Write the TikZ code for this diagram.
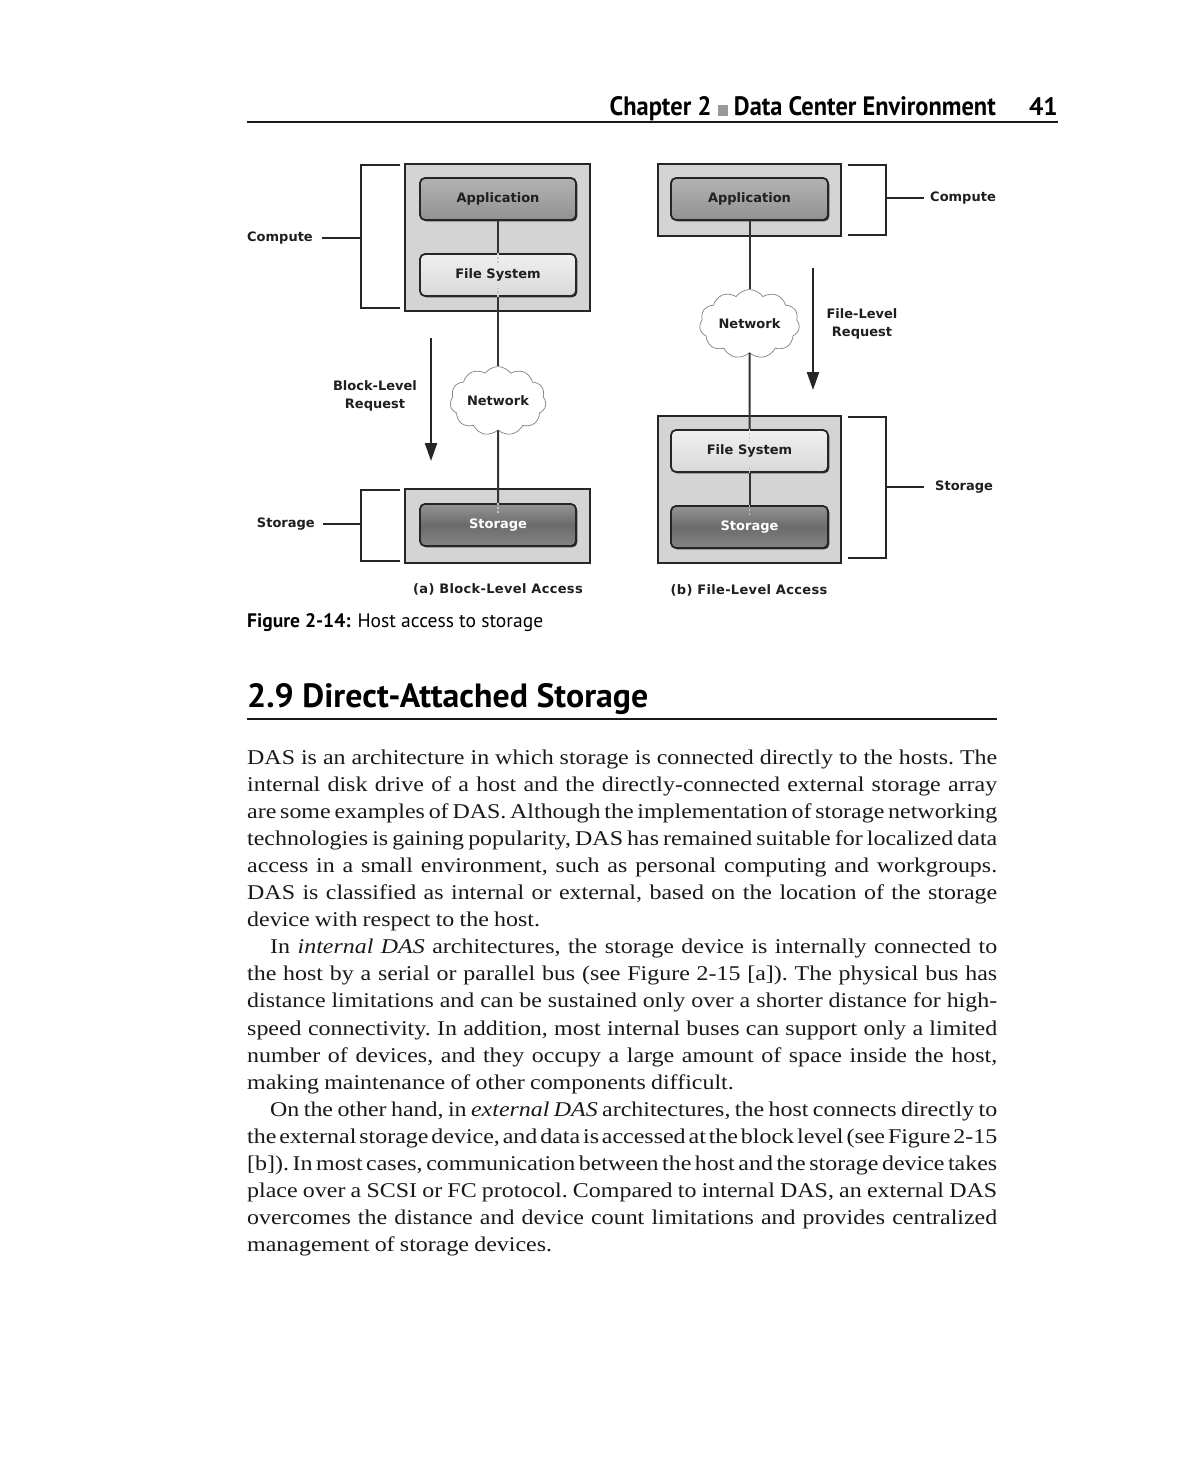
\documentclass[tikz,border=0pt]{standalone}
\usepackage{fontspec}
\usepackage{graphicx}
\setmainfont{Liberation Serif}[FakeStretch=1.14]
\newfontfamily\diafont{DejaVu Sans}
\newfontfamily\headfont{PT Sans}
\usetikzlibrary{shapes.symbols,arrows.meta,shadows}
\newcommand\bodyJ[3]{\node[bodytxt] (#1) at (247,#2) {\hbox to 750pt{\frenchspacing\spaceskip=0.25em plus 3em minus 0.16em\relax #3}};}
\newcommand\bodyL[3]{\node[bodytxt] (#1) at (247,#2) {\hbox{\frenchspacing\spaceskip=0.25em\relax #3}};}
\begin{document}
\begin{tikzpicture}[x=1pt,y=-1pt,
  outerbox/.style={draw=black!85,line width=2.2pt,fill=black!17,inner sep=0,rectangle},
  inbox/.style={draw=black!85,line width=1.8pt,rounded corners=5pt,minimum width=156pt,minimum height=42pt,inner sep=0,
    font=\diafont\bfseries\fontsize{13}{15}\selectfont,text=black!88,
    drop shadow={shadow xshift=1.3pt,shadow yshift=-1.3pt,fill=black!80,opacity=1}},
  appfill/.style={top color=black!30,bottom color=black!43},
  fsfill/.style={top color=black!6,bottom color=black!15},
  stfill/.style={top color=black!42,bottom color=black!48,middle color=black!58,text=white},
  conn/.style={draw=black!80,line width=2pt},
  faint/.style={draw=black!22,line width=1.2pt,dash pattern=on 2pt off 2pt},
  brk/.style={draw=black!85,line width=2.2pt},
  arr/.style={draw=black!85,line width=2.2pt,-{Triangle[length=18pt,width=12pt]}},
  cloudn/.style={cloud,cloud puffs=11,cloud puff arc=110,aspect=1.5,draw=black!50,line width=0.7pt,fill=white,
    inner sep=0,font=\diafont\bfseries\fontsize{13}{15}\selectfont,text=black!88},
  lbl/.style={font=\diafont\bfseries\fontsize{13}{18}\selectfont,text=black!88,inner sep=0,align=center},
  sublbl/.style={font=\diafont\bfseries\fontsize{13}{18}\selectfont\addfontfeature{LetterSpace=2.5},text=black!88,inner sep=0},
  bodytxt/.style={anchor=base west,inner sep=0,font=\fontsize{21}{27}\selectfont,text=black!90},
]
\useasboundingbox[fill=white] (0,0) rectangle (1188,1469);

% ---------- running header ----------
\node[anchor=base east,inner sep=0] (hdr) at (996,116)
  {\resizebox{386pt}{19pt}{\headfont\bfseries Chapter 2 \textcolor{black!40}{\rule{0.42em}{0.42em}} Data Center Environment}};
\node[anchor=base east,inner sep=0] (pg) at (1058,116) {\resizebox{!}{18pt}{\headfont\bfseries 41}};
\draw[line width=1.4pt,black!90] (247,122) -- (1058,122);

% ---------- diagram (a) ----------
\node[outerbox,minimum width=185pt,minimum height=147pt] (compA) at (497.5,237.5) {};
\node[inbox,appfill] (appA) at (498,199) {Application};
\node[inbox,fsfill] (fsA) at (498,275) {File System};
\node[outerbox,minimum width=185pt,minimum height=74pt] (stoA) at (497.5,526) {};
\node[inbox,stfill] (stA) at (498,525) {Storage};
\node[cloudn,minimum width=96pt,minimum height=64pt] (cloudA) at (498,401) {Network};
\draw[conn] (appA.south) -- (fsA.north);
\draw[conn] (fsA.south) -- (cloudA.north);
\draw[conn] (cloudA.south) -- (stA.north);
\draw[faint] (fsA.north) -- ([yshift=-12pt]fsA.north);
\draw[faint] (fsA.south) -- ([yshift=9pt]fsA.south);
\draw[faint] (stA.north) -- ([yshift=-11pt]stA.north);

% brackets (a)
\node[lbl,anchor=east] (lcA) at (313,238) {Compute};
\coordinate (bcA1) at (400,165); \coordinate (bcA2) at (361,165);
\coordinate (bcA3) at (361,308); \coordinate (bcA4) at (400,308);
\coordinate (bcAm) at (361,238);
\draw[brk] (bcA1) -- (bcA2) -- (bcA3) -- (bcA4);
\draw[brk] (bcAm) -- ([xshift=9pt]lcA.east);
\node[lbl,anchor=east] (lsA) at (315,524) {Storage};
\coordinate (bsA1) at (400,490); \coordinate (bsA2) at (361,490);
\coordinate (bsA3) at (361,561); \coordinate (bsA4) at (400,561);
\coordinate (bsAm) at (361,524);
\draw[brk] (bsA1) -- (bsA2) -- (bsA3) -- (bsA4);
\draw[brk] (bsAm) -- ([xshift=8pt]lsA.east);

% request arrow (a)
\coordinate (raA1) at (431,338); \coordinate (raA2) at (431,461);
\draw[arr] (raA1) -- (raA2);
\node[lbl] (rlA) at (375,396) {Block-Level\\Request};
\node[sublbl] (capA) at (498,589) {(a) Block-Level Access};

% ---------- diagram (b) ----------
\node[outerbox,minimum width=183pt,minimum height=72pt] (compB) at (749.5,200) {};
\node[inbox,appfill,minimum width=157pt] (appB) at (749.5,199) {Application};
\node[outerbox,minimum width=183pt,minimum height=147pt] (stoB) at (749.5,489.5) {};
\node[inbox,fsfill,minimum width=157pt] (fsB) at (749.5,451) {File System};
\node[inbox,stfill,minimum width=157pt] (stB) at (749.5,527) {Storage};
\node[cloudn,minimum width=100pt,minimum height=65pt] (cloudB) at (749.5,324) {Network};
\draw[conn] (appB.south) -- (cloudB.north);
\draw[conn] (cloudB.south) -- (fsB.north);
\draw[conn] (fsB.south) -- (stB.north);
\draw[faint] (fsB.north) -- ([yshift=-13pt]fsB.north);
\draw[faint] (fsB.south) -- ([yshift=8pt]fsB.south);
\draw[faint] (stB.north) -- ([yshift=-11pt]stB.north);

% brackets (b)
\node[lbl,anchor=west] (lcB) at (930,198) {Compute};
\coordinate (bcB1) at (848,165); \coordinate (bcB2) at (886,165);
\coordinate (bcB3) at (886,235); \coordinate (bcB4) at (848,235);
\coordinate (bcBm) at (886,198);
\draw[brk] (bcB1) -- (bcB2) -- (bcB3) -- (bcB4);
\draw[brk] (bcBm) -- ([xshift=-6pt]lcB.west);
\node[lbl,anchor=west] (lsB) at (935,487) {Storage};
\coordinate (bsB1) at (848,417); \coordinate (bsB2) at (886,417);
\coordinate (bsB3) at (886,558); \coordinate (bsB4) at (848,558);
\coordinate (bsBm) at (886,487);
\draw[brk] (bsB1) -- (bsB2) -- (bsB3) -- (bsB4);
\draw[brk] (bsBm) -- ([xshift=-11pt]lsB.west);

% request arrow (b)
\coordinate (raB1) at (813,268); \coordinate (raB2) at (813,390);
\draw[arr] (raB1) -- (raB2);
\node[lbl] (rlB) at (862,324) {File-Level\\Request};
\node[sublbl] (capB) at (749,590) {(b) File-Level Access};

% ---------- caption and heading ----------
\node[anchor=base west,inner sep=0] (figcap) at (247,627)
  {\resizebox{296pt}{!}{\headfont\textbf{Figure 2-14:} Host access to storage}};
\node[anchor=base west,inner sep=0] (sec) at (247,707)
  {\resizebox{401pt}{24pt}{\headfont\bfseries 2.9 Direct-Attached Storage}};
\draw[line width=1.2pt,black!90] (247,719) -- (997,719);

% ---------- body text ----------
\bodyJ{t1}{764}{DAS is an architecture in which storage is connected directly to the hosts. The}
\bodyJ{t2}{791.1}{internal disk drive of a host and the directly-connected external storage array}
\bodyJ{t3}{818.2}{are some examples of DAS. Although the implementation of storage networking}
\bodyJ{t4}{845.3}{technologies is gaining popularity, DAS has remained suitable for localized data}
\bodyJ{t5}{872.4}{access in a small environment, such as personal computing and workgroups.}
\bodyJ{t6}{899.5}{DAS is classified as internal or external, based on the location of the storage}
\bodyL{t7}{926.6}{device with respect to the host.}
\bodyJ{t8}{953.7}{\hskip23pt In \textit{internal DAS} architectures, the storage device is internally connected to}
\bodyJ{t9}{980.8}{the host by a serial or parallel bus (see Figure 2-15 [a]). The physical bus has}
\bodyJ{t10}{1007.9}{distance limitations and can be sustained only over a shorter distance for high-}
\bodyJ{t11}{1035}{speed connectivity. In addition, most internal buses can support only a limited}
\bodyJ{t12}{1062.1}{number of devices, and they occupy a large amount of space inside the host,}
\bodyL{t13}{1089.2}{making maintenance of other components difficult.}
\bodyJ{t14}{1116.3}{\hskip23pt On the other hand, in \textit{external DAS} architectures, the host connects directly to}
\bodyJ{t15}{1143.4}{the external storage device, and data is accessed at the block level (see Figure 2-15}
\bodyJ{t16}{1170.5}{[b]). In most cases, communication between the host and the storage device takes}
\bodyJ{t17}{1197.6}{place over a SCSI or FC protocol. Compared to internal DAS, an external DAS}
\bodyJ{t18}{1224.7}{overcomes the distance and device count limitations and provides centralized}
\bodyL{t19}{1251.8}{management of storage devices.}
\end{tikzpicture}
\end{document}
